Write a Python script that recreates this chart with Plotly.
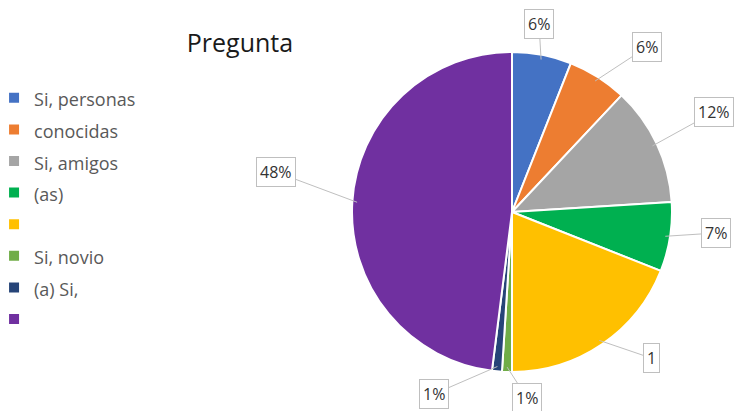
import math
import plotly.graph_objects as go

W, H = 743, 411

# slices, clockwise from 12 o'clock
categories = ["Si, personas", "conocidas", "Si, amigos", "(as)", " ", "Si, novio", "(a) Si,", "  "]
shares = [6, 6, 12, 7, 19, 1, 1, 48]
box_texts = ["6%", "6%", "12%", "7%", "1", "1%", "1%", "48%"]
colors = ["#4472C4", "#ED7D31", "#A5A5A5", "#00B050", "#FFC000", "#70AD47", "#264478", "#7030A0"]

# pie geometry in pixels
cx, cy, R = 512, 212, 160
# callout box centres in pixels (layout only)
box_pos = [(539, 24), (647, 47), (714, 112), (716, 233), (651, 358), (527, 398), (434, 394), (276, 172)]

fig = go.Figure(go.Pie(
    labels=[f"<span style='font-size:18px'>{c}</span>" for c in categories],
    values=shares,
    sort=False,
    direction="clockwise",
    rotation=0,
    textinfo="none",
    hoverinfo="label+percent",
    marker=dict(colors=colors, line=dict(color="white", width=2)),
    domain=dict(x=[(cx - R) / W, (cx + R) / W], y=[1 - (cy + R) / H, 1 - (cy - R) / H]),
))

# callouts with leader lines
total = sum(shares)
cum = 0
annotations = []
for v, txt, (bx, by) in zip(shares, box_texts, box_pos):
    a = 2 * math.pi * (cum + v / 2) / total
    cum += v
    tx = cx + R * 0.97 * math.sin(a)
    ty = cy - R * 0.97 * math.cos(a)
    annotations.append(dict(
        x=tx / W, y=1 - ty / H, xref="paper", yref="paper",
        ax=bx - tx, ay=by - ty,
        text=txt, showarrow=True, arrowhead=0, arrowwidth=1, arrowcolor="#bfbfbf",
        font=dict(family="Open Sans", size=16, color="#333333"),
        bgcolor="white", bordercolor="#bfbfbf", borderwidth=1, borderpad=3,
    ))

fig.update_layout(
    width=W, height=H,
    margin=dict(l=0, r=0, t=0, b=0, autoexpand=False),
    paper_bgcolor="white",
    title=dict(text="Pregunta", x=240 / W, y=1 - 43 / H, xref="container", yref="container",
               xanchor="center", yanchor="middle",
               font=dict(family="Open Sans", size=25, color="#1a1a1a")),
    legend=dict(
        x=-0.008, y=1 - 77 / H, xref="paper", yref="paper",
        xanchor="left", yanchor="top",
        font=dict(family="Open Sans", size=22, color="#595959"),
        traceorder="normal",
    ),
    annotations=annotations,
    showlegend=True,
)

fig.write_html("out.html", config={"displayModeBar": False},
               post_script="document.body.style.margin='0';")
